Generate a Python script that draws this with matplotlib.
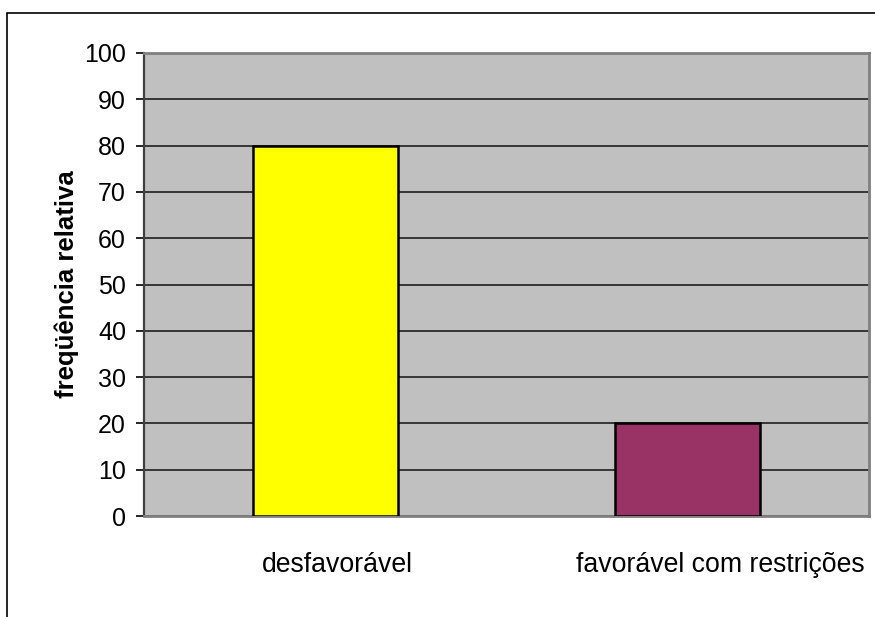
import matplotlib
matplotlib.use("Agg")
import matplotlib.pyplot as plt
from matplotlib.patches import Rectangle
from matplotlib.transforms import ScaledTranslation

categories = ["desfavorável", "favorável com restrições"]
values = [80, 20]
bar_colors = ["#FFFF00", "#993366"]
y_ticks = [0, 10, 20, 30, 40, 50, 60, 70, 80, 90, 100]
y_label = "freqüência relativa"

plt.rcParams["font.family"] = ["Liberation Sans", "DejaVu Sans"]

fig = plt.figure(figsize=(8.75, 6.17), dpi=100)
fig.patch.set_facecolor("white")

# outer chart border
fig.patches.append(Rectangle((7 / 875, -0.05), 1.2, (617 - 13) / 617 + 0.05,
                             transform=fig.transFigure, fill=False,
                             edgecolor="black", linewidth=1.2, zorder=0))

ax = fig.add_axes([144 / 875, 1 - 516 / 617, (869 - 144) / 875, (516 - 53) / 617])
ax.set_facecolor("#C0C0C0")

x = list(range(len(categories)))
ax.bar(x, values, width=0.4, color=bar_colors, edgecolor="black",
       linewidth=1.8, zorder=3)

ax.set_xlim(-0.5, len(categories) - 0.5)
ax.set_ylim(0, 100)
ax.set_yticks(y_ticks)
ax.set_yticklabels([str(v) for v in y_ticks], fontsize=18)
ax.yaxis.grid(True, color="#111111", linewidth=1.1, zorder=1)
ax.set_axisbelow(True)

ax.set_xticks(x)
ax.set_xticklabels(categories, fontsize=19.2)
ax.tick_params(axis="x", length=0, pad=26)
ax.tick_params(axis="y", length=6, width=1.2, color="black", pad=7)

# shift category labels slightly right
label_shift_px = [12, 33]
for lbl, dx in zip(ax.get_xticklabels(), label_shift_px):
    lbl.set_transform(lbl.get_transform() + ScaledTranslation(dx / 100, 0, fig.dpi_scale_trans))

for side in ["top", "right", "bottom"]:
    ax.spines[side].set_color("#808080")
    ax.spines[side].set_linewidth(2)
ax.spines["left"].set_color("#404040")
ax.spines["left"].set_linewidth(1.6)

ax.set_ylabel(y_label, fontsize=18.5, fontweight="bold", labelpad=4)

fig.savefig("out.png", dpi=100)
